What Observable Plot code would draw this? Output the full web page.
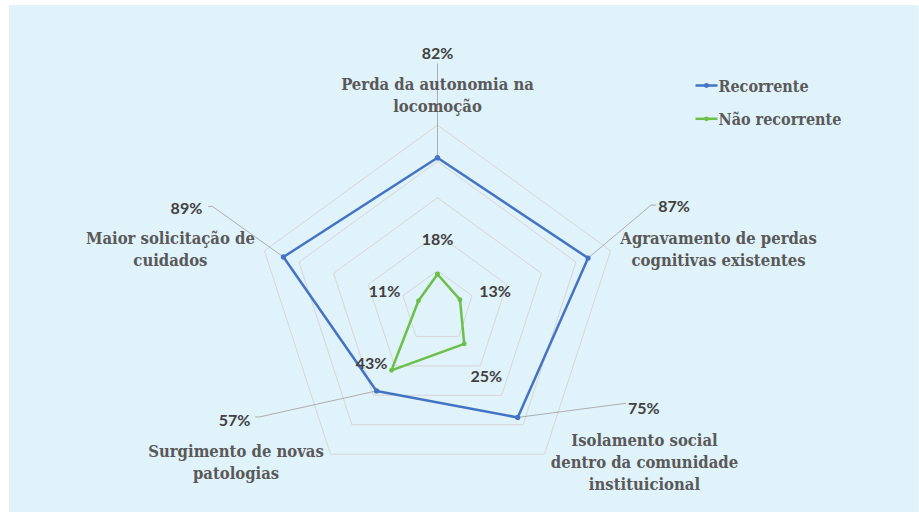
<!DOCTYPE html>
<html>
<head>
<meta charset="utf-8">
<script src="https://cdn.jsdelivr.net/npm/d3@7"></script>
<script src="https://cdn.jsdelivr.net/npm/@observablehq/plot@0.6"></script>
<style>
  html, body { margin: 0; padding: 0; background: #ffffff; }
  #chart { width: 919px; height: 512px; }
</style>
</head>
<body>
<div id="chart"></div>
<script>
// ---- data ----
const categories = [
  "Perda da autonomia na\nlocomoção",
  "Agravamento de perdas\ncognitivas existentes",
  "Isolamento social\ndentro da comunidade\ninstituicional",
  "Surgimento de novas\npatologias",
  "Maior solicitação de\ncuidados"
];
const recorrente = [82, 87, 75, 57, 89];
const naoRecorrente = [18, 13, 25, 43, 11];
const seriesNames = ["Recorrente", "Não recorrente"];
const gridLevels = [20, 40, 60, 80, 100];

// ---- layout / style ----
const W = 919, H = 512, CX = 437, CY = 306.5, R = 182;
const colors = ["#4472c4", "#6cc04a"];
const catFont = "'DejaVu Serif Condensed', 'DejaVu Serif', serif";
const numFont = "Lato, 'Open Sans', sans-serif";
// pixel offsets of value labels (centre) relative to their points
const recLabelOff = [[0, -103.5], [86, -51.5], [126, -9], [-142, 30], [-97, -48]];
// leader line polylines (pixel offsets relative to point), from label side
const recLeader = [
  [[0, -94], [0, -94]],
  [[68, -53], [63, -53]],
  [[108, -14], [103, -13.5]],
  [[-121, 26], [-117, 26]],
  [[-75, -50.5], [-71, -50.5]]
];
const nonLabelOff = [[0, -34], [35, -7.5], [22, 33.5], [-20, -6.5], [-34, -8.5]];
// category label offsets (centre x, top of first line) from outer ring vertex
const catOff = [[0, -51], [108, -22], [100, -24], [-94.5, -13], [-94, -22]];

const ang = i => i * 2 * Math.PI / 5;
const pol = (v, i) => [v / 100 * Math.sin(ang(i)), v / 100 * Math.cos(ang(i))];
const off = ([x, y], [dx, dy]) => [x + dx / R, y - dy / R];
const px = (x, y) => [(x - CX) / R, (CY - y) / R];

// rings
const rings = gridLevels.flatMap(l => d3.range(6).map(k => {
  const [x, y] = pol(l, k % 5);
  return {l, x, y};
}));

const loop = (vals, name) => d3.range(6).map(k => {
  const i = k % 5; const [x, y] = pol(vals[i], i);
  return {name, i, v: vals[i], x, y};
});
const recPts = loop(recorrente, seriesNames[0]);
const nonPts = loop(naoRecorrente, seriesNames[1]);

const recLabels = recorrente.map((v, i) => {
  const [x, y] = off(pol(v, i), recLabelOff[i]);
  return {x, y, t: v + "%"};
});
const nonLabels = naoRecorrente.map((v, i) => {
  const [x, y] = off(pol(v, i), nonLabelOff[i]);
  return {x, y, t: v + "%"};
});
const leaders = recorrente.flatMap((v, i) => {
  const p = pol(v, i);
  const pts = [...recLeader[i].map(o => off(p, o)), p];
  return pts.map(([x, y]) => ({i, x, y}));
});
const catLabels = categories.map((c, i) => {
  const [x, y] = off(pol(100, i), catOff[i]);
  return {x, y, t: c};
});

// legend
const legendRows = seriesNames.map((n, k) => {
  const ly = 85 + k * 33.3;
  const [x1, y] = px(695, ly);
  const [x2] = px(717, ly);
  const [xm] = px(706, ly);
  const [xt, yt] = px(718, ly + 1.5);
  return {n, x1, x2, xm, y, xt, yt, c: colors[k]};
});

const [bx1, by1] = px(9, 5);
const [bx2, by2] = px(918.5, 512);

const chart = Plot.plot({
  width: W, height: H,
  margin: 0,
  x: {domain: [-CX / R, (W - CX) / R], axis: null},
  y: {domain: [-(H - CY) / R, CY / R], axis: null},
  style: {background: "#ffffff", overflow: "visible"},
  marks: [
    Plot.rect([0], {x1: bx1, x2: bx2, y1: by2, y2: by1, fill: "#e0f2fa"}),
    Plot.line(rings, {x: "x", y: "y", z: "l", stroke: "#d6d6d6", strokeWidth: 1}),
    Plot.line(leaders, {x: "x", y: "y", z: "i", stroke: "#a6a6a6", strokeWidth: 0.9}),
    Plot.text(catLabels, {x: "x", y: "y", text: "t", lineAnchor: "top", lineHeight: 1.333,
      fontFamily: catFont, fontWeight: "bold", fontSize: 16.5, fill: "#595959"}),
    Plot.line(recPts, {x: "x", y: "y", stroke: colors[0], strokeWidth: 2.5}),
    Plot.dot(recPts, {x: "x", y: "y", r: 2.6, fill: colors[0]}),
    Plot.line(nonPts, {x: "x", y: "y", stroke: colors[1], strokeWidth: 2.5}),
    Plot.dot(nonPts, {x: "x", y: "y", r: 2.4, fill: colors[1]}),
    Plot.text(recLabels, {x: "x", y: "y", text: "t", fontFamily: numFont, fontWeight: "bold", fontSize: 16, fill: "#404040"}),
    Plot.text(nonLabels, {x: "x", y: "y", text: "t", fontFamily: numFont, fontWeight: "bold", fontSize: 16, fill: "#404040"}),
    Plot.link(legendRows, {x1: "x1", x2: "x2", y1: "y", y2: "y", stroke: "c", strokeWidth: 2.5}),
    Plot.dot(legendRows, {x: "xm", y: "y", r: 2.4, fill: "c"}),
    Plot.text(legendRows, {x: "xt", y: "yt", text: "n", textAnchor: "start",
      fontFamily: catFont, fontWeight: "bold", fontSize: 16, fill: "#595959"})
  ]
});
document.getElementById("chart").appendChild(chart);
</script>
</body>
</html>
